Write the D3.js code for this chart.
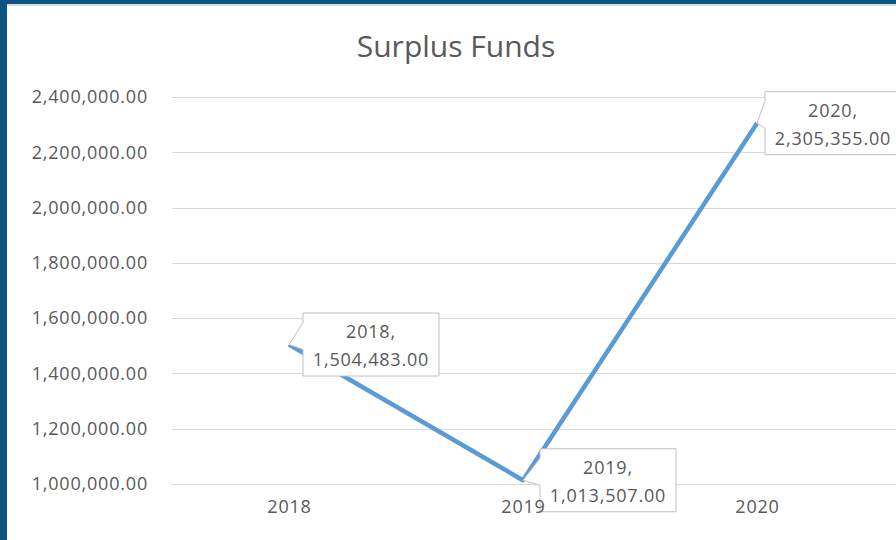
<!DOCTYPE html>
<html>
<head>
<meta charset="utf-8">
<script src="https://cdn.jsdelivr.net/npm/d3@7"></script>
<style>
  html, body { margin: 0; padding: 0; background: #fff; }
  svg { display: block; }
</style>
</head>
<body>
<div id="chart"></div>
<script>
// data
var years = ["2018", "2019", "2020"];
var surplus = [1504483, 1013507, 2305355];
var yTicks = [1000000, 1200000, 1400000, 1600000, 1800000, 2000000, 2200000, 2400000];

// callout horizontal offsets from the point (layout only)
var calloutDx = [14, 17, 8];

var width = 896, height = 540;
var fmt = d3.format(",.2f");

var svg = d3.select("#chart").append("svg")
    .attr("width", width)
    .attr("height", height);

// frame: blue border on top and left
svg.append("rect").attr("x", 0).attr("y", 0).attr("width", width).attr("height", height).attr("fill", "#fff");
svg.append("rect").attr("x", 0).attr("y", 4).attr("width", width).attr("height", 2).attr("fill", "#dcdcdc");
svg.append("rect").attr("x", 0).attr("y", 0).attr("width", width).attr("height", 4).attr("fill", "#0c5282");
svg.append("rect").attr("x", 0).attr("y", 0).attr("width", 7).attr("height", height).attr("fill", "#0c5282");

var x = d3.scalePoint()
    .domain(years)
    .range([172, 874])
    .padding(0.5);

var y = d3.scaleLinear()
    .domain([1000000, 2400000])
    .range([484, 97]);

var font = "'Open Sans', sans-serif";
var spacing = "0.8px";

// title
svg.append("text")
    .attr("x", 456)
    .attr("y", 57)
    .attr("text-anchor", "middle")
    .attr("font-family", font)
    .attr("font-size", 30)
    .attr("fill", "#595959")
    .text("Surplus Funds");

// gridlines
svg.append("g")
    .selectAll("line")
    .data(yTicks)
    .enter().append("line")
    .attr("x1", 172)
    .attr("x2", width)
    .attr("y1", function(d) { return Math.round(y(d)) + 0.5; })
    .attr("y2", function(d) { return Math.round(y(d)) + 0.5; })
    .attr("stroke", "#d9d9d9")
    .attr("stroke-width", 1);

// y axis (labels only)
var yAxis = d3.axisLeft(y)
    .tickValues(yTicks)
    .tickFormat(fmt)
    .tickSize(0)
    .tickPadding(0);

var gy = svg.append("g")
    .attr("transform", "translate(148,0)")
    .call(yAxis);
gy.select(".domain").remove();
gy.selectAll("text")
    .attr("font-family", font)
    .attr("font-size", 18)
    .attr("letter-spacing", spacing)
    .attr("fill", "#595959");

// line
var pts = years.map(function(yr, i) { return { year: yr, value: surplus[i], dx: calloutDx[i] }; });

var line = d3.line()
    .x(function(d) { return x(d.year); })
    .y(function(d) { return y(d.value); });

svg.append("path")
    .datum(pts)
    .attr("d", line)
    .attr("fill", "none")
    .attr("stroke", "#5b9bd5")
    .attr("stroke-width", 4.5)
    .attr("stroke-linejoin", "round")
    .attr("stroke-linecap", "butt");

// callouts
var boxW = 136, boxH = 63;
var callouts = svg.append("g")
    .selectAll("g")
    .data(pts)
    .enter().append("g");

callouts.append("path")
    .attr("d", function(d) {
        var px = x(d.year), py = y(d.value);
        var bx = px + d.dx, by = py - boxH / 2;
        var p = d3.path();
        p.moveTo(bx, by);
        p.lineTo(bx + boxW, by);
        p.lineTo(bx + boxW, by + boxH);
        p.lineTo(bx, by + boxH);
        p.lineTo(bx, py + 5);
        p.lineTo(px, py);
        p.lineTo(bx, py - 22);
        p.closePath();
        return p.toString();
    })
    .attr("fill", "#fff")
    .attr("stroke", "#bfbfbf")
    .attr("stroke-width", 1);

callouts.append("text")
    .attr("x", function(d) { return x(d.year) + d.dx + boxW / 2; })
    .attr("y", function(d) { return y(d.value) - boxH / 2 + 25; })
    .attr("text-anchor", "middle")
    .attr("font-family", font)
    .attr("font-size", 18)
    .attr("letter-spacing", spacing)
    .attr("fill", "#595959")
    .text(function(d) { return d.year + ","; });

callouts.append("text")
    .attr("x", function(d) { return x(d.year) + d.dx + boxW / 2; })
    .attr("y", function(d) { return y(d.value) - boxH / 2 + 53; })
    .attr("text-anchor", "middle")
    .attr("font-family", font)
    .attr("font-size", 18)
    .attr("letter-spacing", spacing)
    .attr("fill", "#595959")
    .text(function(d) { return fmt(d.value); });

// x axis (labels only), drawn last like the reference
var xAxis = d3.axisBottom(x).tickSize(0).tickPadding(0);
var gx = svg.append("g")
    .attr("transform", "translate(0,500)")
    .call(xAxis);
gx.select(".domain").remove();
gx.selectAll("text")
    .attr("font-family", font)
    .attr("font-size", 18)
    .attr("letter-spacing", spacing)
    .attr("fill", "#595959");
</script>
</body>
</html>
